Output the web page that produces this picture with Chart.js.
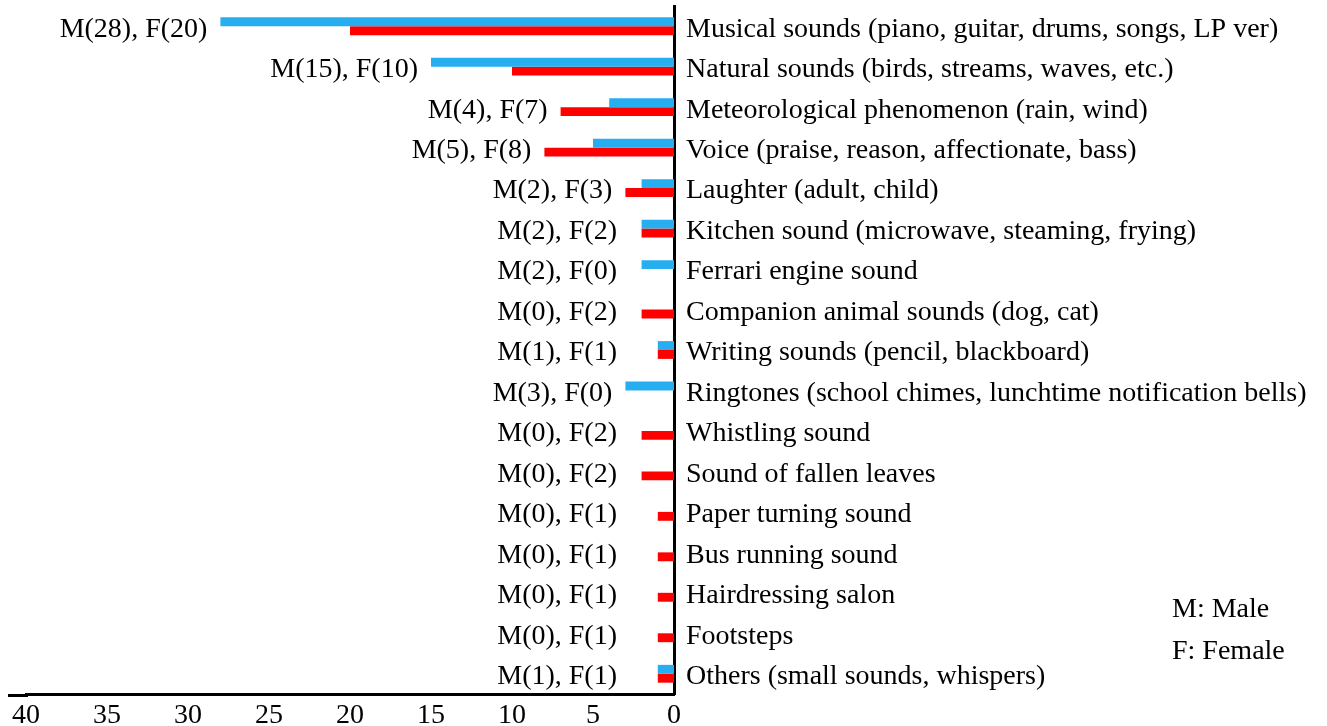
<!DOCTYPE html>
<html>
<head>
<meta charset="utf-8">
<script src="https://cdn.jsdelivr.net/npm/chart.js@4.4.1/dist/chart.umd.min.js"></script>
<style>
  html, body { margin: 0; padding: 0; background: #fff; }
  #wrap { width: 1327px; height: 726px; position: relative; }
</style>
</head>
<body>
<div id="wrap"><canvas id="soundChart" width="1327" height="726"></canvas></div>
<script>
// sound categories, top to bottom
var categories = [
	"Musical sounds (piano, guitar, drums, songs, LP ver)",
	"Natural sounds (birds, streams, waves, etc.)",
	"Meteorological phenomenon (rain, wind)",
	"Voice (praise, reason, affectionate, bass)",
	"Laughter (adult, child)",
	"Kitchen sound (microwave, steaming, frying)",
	"Ferrari engine sound",
	"Companion animal sounds (dog, cat)",
	"Writing sounds (pencil, blackboard)",
	"Ringtones (school chimes, lunchtime notification bells)",
	"Whistling sound",
	"Sound of fallen leaves",
	"Paper turning sound",
	"Bus running sound",
	"Hairdressing salon",
	"Footsteps",
	"Others (small sounds, whispers)"
];
var maleCounts   = [28, 15, 4, 5, 2, 2, 2, 0, 1, 3, 0, 0, 0, 0, 0, 0, 1];
var femaleCounts = [20, 10, 7, 8, 3, 2, 0, 2, 1, 0, 2, 2, 1, 1, 1, 1, 1];
var xTicks = [0, 5, 10, 15, 20, 25, 30, 35, 40];
var legendNotes = ["M: Male", "F: Female"];

var maleColour = "#27aef0";
var femaleColour = "#ff0000";
var serif = "'Liberation Serif', 'Times New Roman', serif";

/* value labels like M(28), F(20) left of each bar pair, plus the M/F note */
var countLabels = {
	id: 'countLabels',
	afterDatasetsDraw: function(chart) {
		var ctx = chart.ctx;
		var m = chart.getDatasetMeta(0);
		var f = chart.getDatasetMeta(1);
		var area = chart.chartArea;
		ctx.save();
		ctx.fillStyle = '#000';
		ctx.font = '28px ' + serif;
		ctx.textBaseline = 'middle';
		ctx.textAlign = 'right';
		categories.forEach(function(c, i) {
			var endX = Math.min(m.data[i].x, f.data[i].x);
			var rowY = chart.scales.y.getPixelForValue(i);
			var tx = Math.min(endX - 13, 617);
			ctx.fillText('M(' + maleCounts[i] + '), F(' + femaleCounts[i] + ')', tx, rowY + 3);
		});

		// bottom axis line runs a bit past the chart area on the left
		ctx.strokeStyle = '#000';
		ctx.lineWidth = 3;
		ctx.beginPath();
		ctx.moveTo(8, area.bottom + 1.5);
		ctx.lineTo(area.left + 2, area.bottom + 1.5);
		ctx.stroke();

		ctx.textAlign = 'left';
		ctx.fillText(legendNotes[0], 1172, 610);
		ctx.fillText(legendNotes[1], 1172, 652);
		ctx.restore();
	}
};

var ctx = document.getElementById('soundChart');

var soundChart = new Chart(ctx, {
	type: 'bar',
	data: {
		labels: categories,
		datasets: [{
			label: 'Male',
			data: maleCounts,
			backgroundColor: maleColour,
			categoryPercentage: 0.44,
			barPercentage: 1.0
		}, {
			label: 'Female',
			data: femaleCounts,
			backgroundColor: femaleColour,
			categoryPercentage: 0.44,
			barPercentage: 1.0
		}]
	},
	plugins: [countLabels],
	options: {
		indexAxis: 'y',
		responsive: false,
		animation: false,
		layout: {
			padding: { left: 26, top: 6, right: 0, bottom: 0 }
		},
		plugins: {
			legend: { display: false },
			tooltip: { enabled: false }
		},
		scales: {
			x: {
				reverse: true,
				min: 0,
				max: 40,
				afterBuildTicks: function(scale) {
					scale.ticks = xTicks.map(function(v) { return { value: v }; });
				},
				afterFit: function(scale) {
					scale.height = 32;
					scale.paddingLeft = 0;
					scale.paddingRight = 0;
				},
				grid: { display: false, drawTicks: false },
				border: { display: true, color: '#000', width: 3 },
				ticks: {
					color: '#000',
					padding: 8,
					maxRotation: 0,
					font: { family: serif, size: 28, lineHeight: 1 }
				}
			},
			y: {
				position: 'right',
				afterFit: function(scale) {
					scale.width = 1327 - 674;
					scale.paddingTop = 0;
					scale.paddingBottom = 0;
				},
				grid: { display: false, drawTicks: false },
				border: { display: true, color: '#000', width: 3 },
				ticks: {
					color: '#000',
					padding: 12,
					labelOffset: 3,
					autoSkip: false,
					font: { family: serif, size: 28, lineHeight: 1 }
				}
			}
		}
	}
});
</script>
</body>
</html>
